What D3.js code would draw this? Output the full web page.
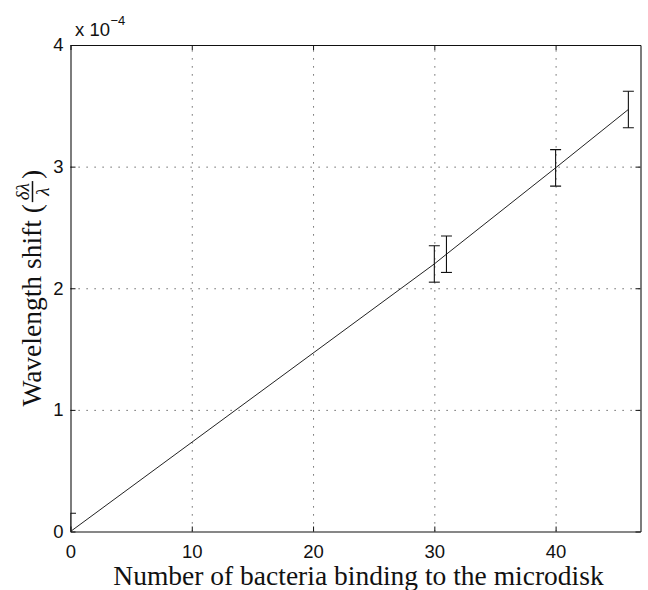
<!DOCTYPE html>
<html>
<head>
<meta charset="utf-8">
<script src="https://cdn.jsdelivr.net/npm/d3@7"></script>
<style>
body { margin: 0; background: #fff; }
svg { display: block; }
</style>
</head>
<body>
<div id="chart"></div>
<script>
// data, y in units of 1e-4
var bacteria = [0, 30, 31, 40, 46];
var shift = [0, 2.2, 2.28, 2.99, 3.47];
var shiftErr = [0.15, 0.15, 0.15, 0.15, 0.15];
var xTicks = [0, 10, 20, 30, 40];
var yTicks = [0, 1, 2, 3, 4];
var xDomain = [0, 47];
var yDomain = [0, 4];

var W = 648, H = 590;
var margin = {left: 70.5, top: 45, right: 7.5, bottom: 58.5};
var width = W - margin.left - margin.right;
var height = H - margin.top - margin.bottom;

var svg = d3.select('#chart').append('svg')
	.attr('width', W)
	.attr('height', H);

var g = svg.append('g')
	.attr('transform', 'translate(' + margin.left + ',' + margin.top + ')');

var x = d3.scaleLinear().domain(xDomain).range([0, width]);
var y = d3.scaleLinear().domain(yDomain).range([height, 0]);

svg.append('defs').append('clipPath').attr('id', 'plotClip')
	.append('rect').attr('x', 0).attr('y', 0).attr('width', width).attr('height', height);

//grid, dotted like matlab
var gridX = g.append('g')
	.attr('transform', 'translate(0,' + height + ')')
	.call(d3.axisBottom(x).tickValues(xTicks.filter(function(d){return d > 0})).tickSize(-height).tickFormat(''));
var gridY = g.append('g')
	.call(d3.axisLeft(y).tickValues(yTicks.filter(function(d){return d > 0 && d < 4})).tickSize(-width).tickFormat(''));
[gridX, gridY].forEach(function(a){
	a.select('.domain').remove();
	a.selectAll('line')
		.attr('stroke', '#444')
		.attr('stroke-width', 1)
		.attr('stroke-dasharray', '1.2,6.8');
});

// axes with inward ticks
var font = '"Liberation Sans", Arial, Helvetica, sans-serif';
var axB = g.append('g')
	.attr('transform', 'translate(0,' + height + ')')
	.call(d3.axisBottom(x).tickValues(xTicks).tickSize(-5).tickPadding(13).tickSizeOuter(0));
var axL = g.append('g')
	.call(d3.axisLeft(y).tickValues(yTicks).tickSize(-5).tickPadding(7).tickFormat(d3.format('d')).tickSizeOuter(0));
var axT = g.append('g')
	.call(d3.axisTop(x).tickValues(xTicks).tickSize(-5).tickFormat('').tickSizeOuter(0));
var axR = g.append('g')
	.attr('transform', 'translate(' + width + ',0)')
	.call(d3.axisRight(y).tickValues(yTicks).tickSize(-5).tickFormat('').tickSizeOuter(0));
[axB, axL, axT, axR].forEach(function(a){
	a.select('.domain').attr('stroke', '#111').attr('stroke-width', 1.1);
	a.selectAll('.tick line').attr('stroke', '#111');
	a.selectAll('.tick text')
		.attr('fill', '#111')
		.style('font-family', font)
		.style('font-size', '18.5px');
});

//the data line and error bars
var pts = bacteria.map(function(d, i){ return {x: d, y: shift[i], e: shiftErr[i]}; });
var plot = g.append('g').attr('clip-path', 'url(#plotClip)');

plot.append('path')
	.datum(pts)
	.attr('fill', 'none')
	.attr('stroke', '#222')
	.attr('stroke-width', 1)
	.attr('d', d3.line().x(function(d){return x(d.x)}).y(function(d){return y(d.y)}));

var capW = 5.5;
var bars = plot.selectAll('g.bar').data(pts).enter().append('g').attr('class', 'bar')
	.attr('stroke', '#111').attr('stroke-width', 1.1);
bars.append('line')
	.attr('x1', function(d){return x(d.x)}).attr('x2', function(d){return x(d.x)})
	.attr('y1', function(d){return y(d.y + d.e)}).attr('y2', function(d){return y(d.y - d.e)});
bars.append('line')
	.attr('x1', function(d){return x(d.x) - capW}).attr('x2', function(d){return x(d.x) + capW})
	.attr('y1', function(d){return y(d.y + d.e)}).attr('y2', function(d){return y(d.y + d.e)});
bars.append('line')
	.attr('x1', function(d){return x(d.x) - capW}).attr('x2', function(d){return x(d.x) + capW})
	.attr('y1', function(d){return y(d.y - d.e)}).attr('y2', function(d){return y(d.y - d.e)});

// exponent x 10^-4
var expT = svg.append('text')
	.attr('x', 75).attr('y', 36)
	.style('font-family', font).style('font-size', '18.5px').attr('fill', '#111')
	.text('x 10');
var ew = expT.node().getComputedTextLength();
svg.append('text')
	.attr('x', 75 + ew + 0.5).attr('y', 25)
	.style('font-family', font).style('font-size', '13px').attr('fill', '#111')
	.text('\u22124');

// labels, serif like latex
var serif = '"Liberation Serif", "Times New Roman", serif';
svg.append('text')
	.attr('x', margin.left + width / 2 + 3).attr('y', 585)
	.attr('text-anchor', 'middle')
	.style('font-family', serif).style('font-size', '27.5px').attr('fill', '#111')
	.text('Number of bacteria binding to the microdisk');

var yl = svg.append('g')
	.attr('transform', 'translate(41,' + (margin.top + height / 2) + ') rotate(-90)');
var ylIn = yl.append('g');
var t1 = ylIn.append('text')
	.attr('x', 0).attr('y', 0)
	.style('font-family', serif).style('font-size', '27.5px').attr('fill', '#111')
	.text('Wavelength shift (');
var w1 = t1.node().getComputedTextLength();
var num = ylIn.append('text')
	.attr('y', -12.5)
	.attr('text-anchor', 'middle')
	.style('font-family', serif).style('font-style', 'italic').style('font-size', '19px').attr('fill', '#111')
	.text('\u03b4\u03bb');
var den = ylIn.append('text')
	.attr('y', 7.5)
	.attr('text-anchor', 'middle')
	.style('font-family', serif).style('font-style', 'italic').style('font-size', '19px').attr('fill', '#111')
	.text('\u03bb');
var fw = Math.max(num.node().getComputedTextLength(), den.node().getComputedTextLength()) + 4;
var fc = w1 + 2 + fw / 2;
num.attr('x', fc);
den.attr('x', fc);
ylIn.append('line')
	.attr('x1', w1 + 2).attr('x2', w1 + 2 + fw)
	.attr('y1', -8.5).attr('y2', -8.5)
	.attr('stroke', '#111').attr('stroke-width', 1.5);
var t2 = ylIn.append('text')
	.attr('x', w1 + fw + 4).attr('y', 0)
	.style('font-family', serif).style('font-size', '27.5px').attr('fill', '#111')
	.text(')');
var total = w1 + fw + 4 + t2.node().getComputedTextLength();
ylIn.attr('transform', 'translate(' + (-total / 2) + ',0)');
</script>
</body>
</html>
